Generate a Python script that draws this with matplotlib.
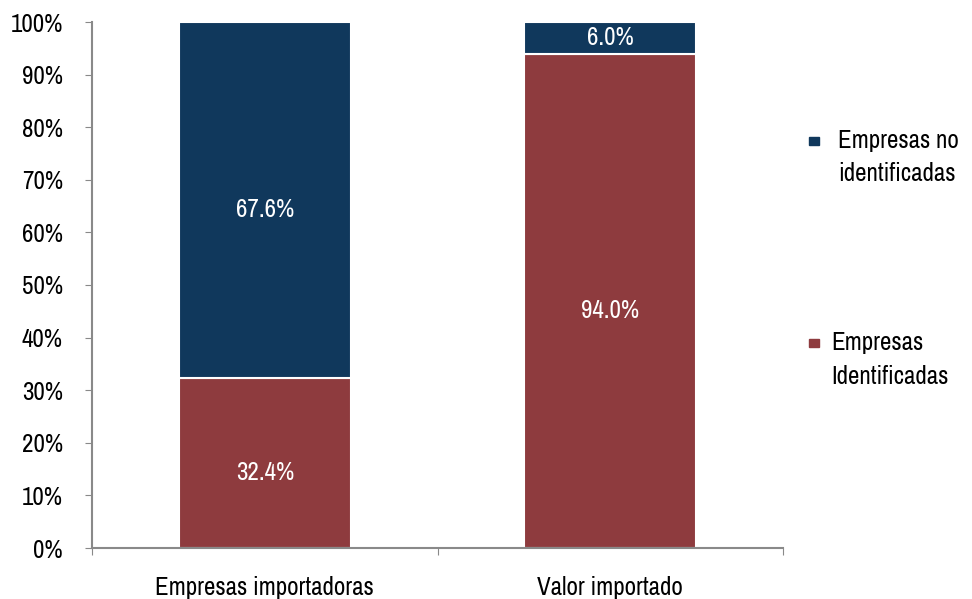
import matplotlib
matplotlib.use("Agg")
import matplotlib.pyplot as plt
from matplotlib.patches import Rectangle

categories = ["Empresas importadoras", "Valor importado"]
identificadas = [32.4, 94.0]
no_identificadas = [67.6, 6.0]
series_names = ["Empresas no\nidentificadas", "Empresas\nIdentificadas"]
yticks = [0, 10, 20, 30, 40, 50, 60, 70, 80, 90, 100]

plt.rcParams['font.family'] = ['Archivo Narrow', 'DejaVu Sans']

blue = "#10385C"
red = "#8E3B3E"
gray = "#898989"
FS = 18

fig = plt.figure(figsize=(9.72, 5.99), dpi=100)
ax = fig.add_axes([92/972, 51/599, 691/972, 526/599])
x = list(range(len(categories)))
ax.bar(x, identificadas, width=0.497, color=red, edgecolor="white", linewidth=1.5)
ax.bar(x, no_identificadas, width=0.497, bottom=identificadas, color=blue, edgecolor="white", linewidth=1.5)

def label(xi, bot, v):
    off = -7 if v > 15 else 0
    ax.annotate(f"{v:.1f}%", (xi, bot + v/2), xytext=(0, off), textcoords="offset points",
                color="white", ha="center", va="center", fontsize=FS)

for xi, v in zip(x, identificadas):
    label(xi, 0, v)
for xi, v, bot in zip(x, no_identificadas, identificadas):
    label(xi, bot, v)

ax.set_xlim(-0.5, 1.5)
ax.set_ylim(0, 100)
ax.set_yticks(yticks)
ax.set_yticklabels([f"{t}%" for t in yticks], fontsize=FS)
ax.set_xticks([-0.5, 0.5, 1.5])
ax.set_xticklabels([])
ax.set_xticks(x, minor=True)
ax.set_xticklabels(categories, minor=True, fontsize=FS)
ax.tick_params(axis="x", which="minor", length=0, pad=20)
ax.tick_params(axis="x", which="major", length=5, color=gray, direction="out")
ax.tick_params(axis="y", length=5, color=gray, direction="out", pad=16)
for s in ["top", "right"]:
    ax.spines[s].set_visible(False)
for s in ["left", "bottom"]:
    ax.spines[s].set_color(gray)
    ax.spines[s].set_linewidth(1.5)

# legend
for name, col, yc, xt in [(series_names[0], blue, 141, 838), (series_names[1], red, 343, 831)]:
    fig.patches.append(Rectangle((809/972, 1 - (yc + 4)/599), 10/972, 8/599,
                                 transform=fig.transFigure, color=col))
    for i, line in enumerate(name.split("\n")):
        fig.text(xt/972, 1 - (yc + i*33)/599, line, fontsize=FS, va="center", ha="left")

fig.savefig("out.png", dpi=100)
